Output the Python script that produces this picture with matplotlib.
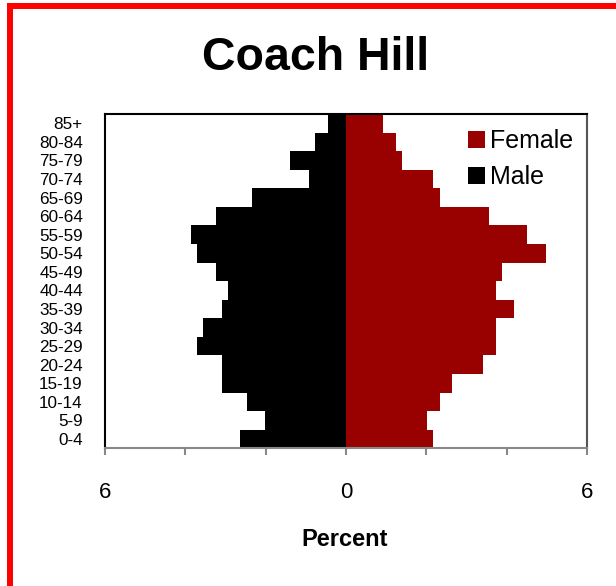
import matplotlib
matplotlib.use("Agg")
import matplotlib.pyplot as plt
from matplotlib.patches import Patch, Rectangle

plt.rcParams['font.family'] = ['Liberation Sans', 'DejaVu Sans']

age_groups = ["0-4", "5-9", "10-14", "15-19", "20-24", "25-29", "30-34", "35-39",
              "40-44", "45-49", "50-54", "55-59", "60-64", "65-69", "70-74",
              "75-79", "80-84", "85+"]
male = [2.63, 2.01, 2.47, 3.09, 3.09, 3.71, 3.56, 3.09, 2.94, 3.24, 3.71, 3.86,
        3.24, 2.33, 0.93, 1.39, 0.76, 0.46]
female = [2.17, 2.02, 2.33, 2.64, 3.42, 3.73, 3.73, 4.19, 3.73, 3.88, 4.98, 4.50,
          3.56, 2.33, 2.17, 1.39, 1.24, 0.93]
x_ticks = [-6, -4, -2, 0, 2, 4, 6]
x_tick_labels = ["6", "", "", "0", "", "", "6"]
title = "Coach Hill"
x_label = "Percent"

W, H = 616, 586
fig = plt.figure(figsize=(W / 100, H / 100), dpi=100)
ax = fig.add_axes([105 / W, 1 - 448.3 / H, (587 - 105) / W, (448.3 - 114) / H])

ypos = list(range(len(age_groups)))
ax.barh(ypos, [-m for m in male], height=1.0, color="black", linewidth=0)
ax.barh(ypos, female, height=1.0, color="#990000", linewidth=0)

ax.set_xlim(-6, 6)
ax.set_ylim(-0.5, len(age_groups) - 0.5)
ax.set_yticks(ypos)
ax.set_yticklabels(age_groups, fontsize=12.3)
ax.tick_params(axis="y", length=0, pad=16)
ax.set_xticks(x_ticks)
ax.set_xticklabels(x_tick_labels, fontsize=16)
ax.tick_params(axis="x", length=5, width=1.5, color="#888888", pad=19)

for s in ["left", "top", "right"]:
    ax.spines[s].set_color("black")
    ax.spines[s].set_linewidth(1.5)
ax.spines["right"].set_color("#555555")
ax.spines["bottom"].set_color("#888888")
ax.spines["bottom"].set_linewidth(1.5)

fig.text(316 / W, 1 - 70 / H, title, fontsize=33.5, fontweight="bold",
         ha="center", va="baseline")
fig.text(345 / W, 1 - 546.5 / H, x_label, fontsize=17, fontweight="bold",
         ha="center", va="baseline")

handles = [Patch(facecolor="#990000", label="Female"),
           Patch(facecolor="black", label="Male")]
ax.legend(handles=handles, loc="upper left",
          bbox_to_anchor=((468 - 105) / 482, (448.3 - 129) / 334.3),
          frameon=False, fontsize=18, handlelength=0.66, handleheight=0.66,
          handletextpad=0.2, labelspacing=0.5, borderpad=0, borderaxespad=0)

# red frame around the figure
fig.patches.append(Rectangle((9.8 / W, -2 / H), 1.0, 1 - 6.3 / H + 2 / H,
                             transform=fig.transFigure, fill=False,
                             edgecolor="#ff0000", linewidth=4.3, zorder=10))

fig.savefig("out.png", dpi=100)
